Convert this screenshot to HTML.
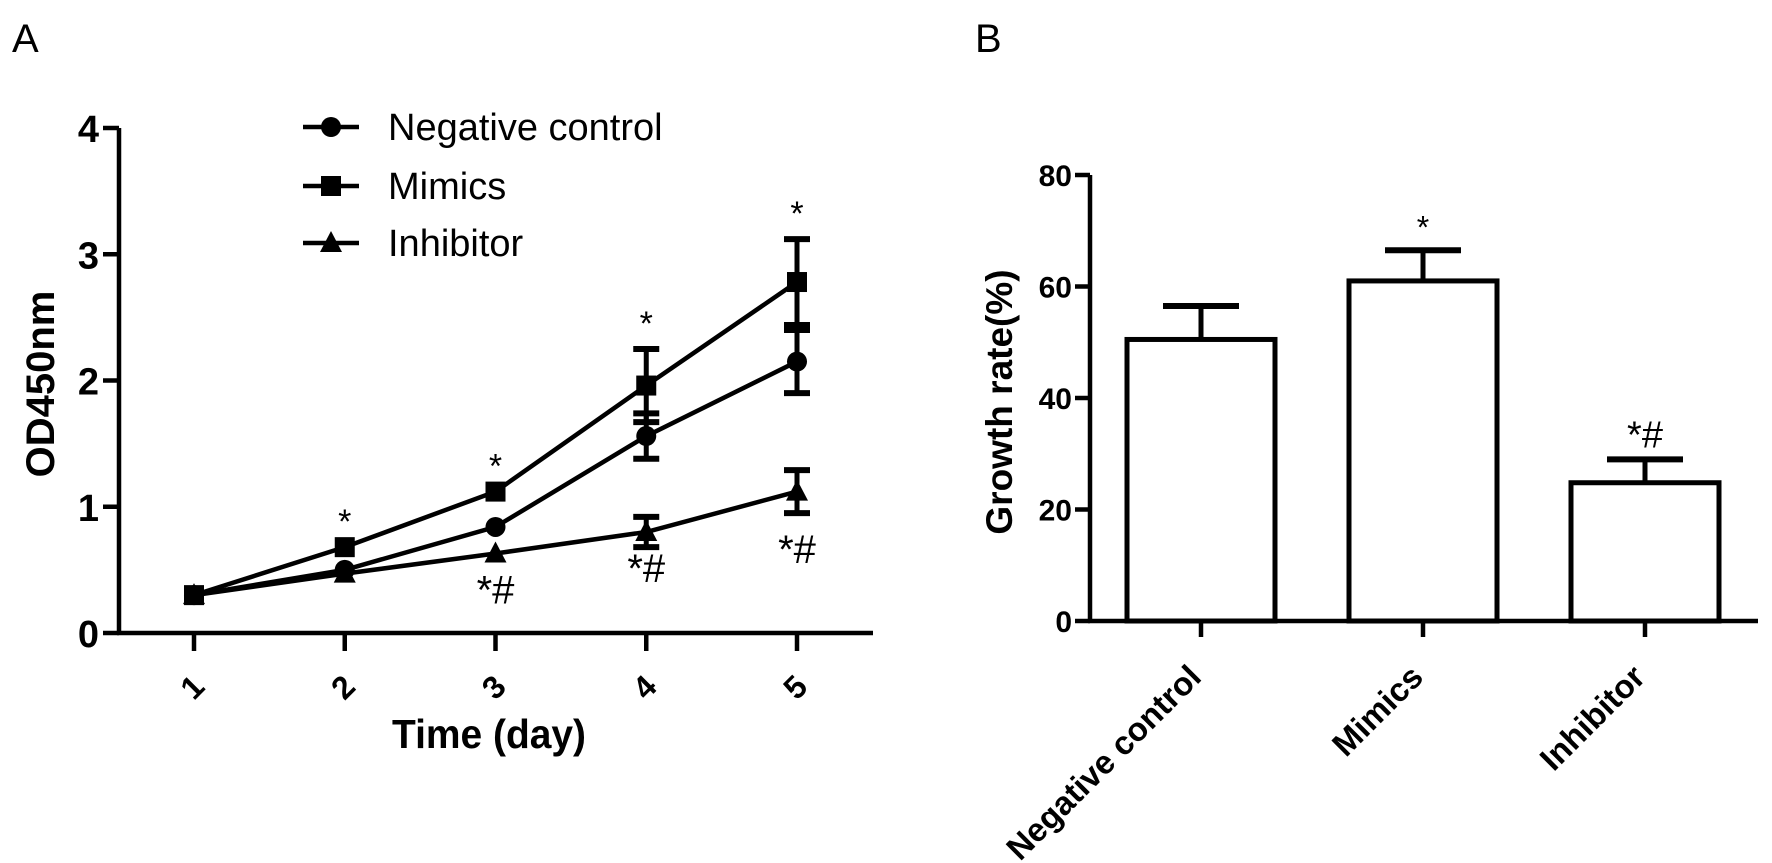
<!DOCTYPE html>
<html><head><meta charset="utf-8"><style>
html,body{margin:0;padding:0;background:#fff;}
svg{display:block;font-family:"Liberation Sans",Arial,sans-serif;}
</style></head><body>
<svg id="fig" width="1772" height="863" viewBox="0 0 1772 863" xmlns="http://www.w3.org/2000/svg">
<text x="12" y="52" font-size="40">A</text>
<text x="975" y="52" font-size="40">B</text>
<g id="chartA"></g>
<g id="chartB"></g>
</svg>
<script>
const days = [1,2,3,4,5];
const ncVals = [0.30,0.50,0.84,1.56,2.15];
const ncErr = [0,0,0,0.18,0.25];
const miVals = [0.30,0.68,1.12,1.96,2.78];
const miErr = [0,0,0,0.29,0.34];
const inVals = [0.30,0.47,0.63,0.80,1.12];
const inErr = [0,0,0,0.12,0.17];
const miMarks = ["","*","*","*","*"];
const inMarks = ["","","*#","*#","*#"];
const yTicksA = [0,1,2,3,4];

const barCats = ["Negative control","Mimics","Inhibitor"];
const barVals = [50.5,61,24.8];
const barErr = [6,5.5,4.2];
const barMarks = ["","*","*#"];
const yTicksB = [0,20,40,60,80];

const NS="http://www.w3.org/2000/svg";
function mk(parent,tag,attrs,text){const e=document.createElementNS(NS,tag);for(const k in attrs)e.setAttribute(k,attrs[k]);if(text!==undefined)e.textContent=text;parent.appendChild(e);return e;}

// Chart A
const A=document.getElementById('chartA');
const ax0=119, ay0=633, ay4=128;
const xA=d=>194+(d-1)*150.75;
const yA=v=>ay0-(ay0-ay4)*v/4;
let e;
e=mk(A,'line',{x1:ax0,y1:yA(0),x2:ax0,y2:yA(4),stroke:'#000','stroke-width':4.5});


e=mk(A,'line',{x1:ax0-2,y1:ay0,x2:873,y2:ay0,stroke:'#000','stroke-width':4.5});


yTicksA.forEach(t=>{
 mk(A,'line',{x1:ax0-16,y1:yA(t),x2:ax0,y2:yA(t),stroke:'#000','stroke-width':4.5});
 e=mk(A,'text',{x:ax0-20,y:yA(t)+14,'font-size':38,'font-weight':'bold','text-anchor':'end'},String(t));
 
 
});
days.forEach(d=>{
 mk(A,'line',{x1:xA(d),y1:ay0,x2:xA(d),y2:ay0+18,stroke:'#000','stroke-width':4.5});
 e=mk(A,'text',{x:0,y:0,'font-size':32,'font-weight':'bold','text-anchor':'middle',transform:`translate(${xA(d)+6},${ay0+62}) rotate(-45)`},String(d));
 
 
});
e=mk(A,'text',{x:392,y:748,'font-size':41,'font-weight':'bold',textLength:194,lengthAdjust:'spacingAndGlyphs'},'Time (day)');


e=mk(A,'text',{x:0,y:0,'font-size':40,'font-weight':'bold','text-anchor':'middle',transform:'translate(54,384) rotate(-90)'},'OD450nm');



function marker(g,type,x,y){
 if(type==='c') return mk(g,'circle',{cx:x,cy:y,r:10,fill:'#000'});
 if(type==='s') return mk(g,'rect',{x:x-10,y:y-10,width:20,height:20,fill:'#000'});
 return mk(g,'polygon',{points:`${x},${y-12} ${x-11},${y+9} ${x+11},${y+9}`,fill:'#000'});
}
const series=[[ncVals,ncErr,'c','negative-control'],[miVals,miErr,'s','mimics'],[inVals,inErr,'t','inhibitor']];
series.forEach(([vals,err,type,name])=>{
 const g=mk(A,'g',{});
 
 
 const pts=vals.map((v,i)=>xA(days[i])+','+yA(v)).join(' ');
 mk(g,'polyline',{points:pts,fill:'none',stroke:'#000','stroke-width':4.5});
 vals.forEach((v,i)=>{
  if(err[i]>0){
   const x=xA(days[i]);
   mk(g,'line',{x1:x,y1:yA(v+err[i]),x2:x,y2:yA(v-err[i]),stroke:'#000','stroke-width':5});
   mk(g,'line',{x1:x-13,y1:yA(v+err[i]),x2:x+13,y2:yA(v+err[i]),stroke:'#000','stroke-width':6});
   mk(g,'line',{x1:x-13,y1:yA(v-err[i]),x2:x+13,y2:yA(v-err[i]),stroke:'#000','stroke-width':6});
  }
  const m=marker(g,type,xA(days[i]),yA(v));
  
  
 });
});
miVals.forEach((v,i)=>{ if(miMarks[i]){
 e=mk(A,'text',{x:xA(days[i]),y:yA(v+miErr[i])-14,'font-size':34,'text-anchor':'middle'},miMarks[i]);
 
 
}});
inVals.forEach((v,i)=>{ if(inMarks[i]){
 const lo = i===4 ? v-inErr[i] : v;
 e=mk(A,'text',{x:xA(days[i]),y:yA(lo)+50,'font-size':40,'text-anchor':'middle'},inMarks[i]);
 
 
}});
// legend
const legNames=['Negative control','Mimics','Inhibitor'];const legTypes=['c','s','t'];const legY=[127,186,243];
legNames.forEach((n,i)=>{
 const g=mk(A,'g',{});
 
 
 mk(g,'line',{x1:303,y1:legY[i],x2:359,y2:legY[i],stroke:'#000','stroke-width':4.5});
 marker(g,legTypes[i],331,legY[i]);
 mk(g,'text',{x:388,y:legY[i]+13,'font-size':38},n);
});

// Chart B
const B=document.getElementById('chartB');
const bx0=1090, by0=621, by80=175;
const yB=v=>by0-(by0-by80)*v/80;
const xB=i=>1201+i*222;
const bw=148;
e=mk(B,'line',{x1:bx0,y1:yB(0),x2:bx0,y2:yB(80),stroke:'#000','stroke-width':4.5});


e=mk(B,'line',{x1:bx0-2,y1:by0,x2:1758,y2:by0,stroke:'#000','stroke-width':4.5});


yTicksB.forEach(t=>{
 mk(B,'line',{x1:bx0-15,y1:yB(t),x2:bx0,y2:yB(t),stroke:'#000','stroke-width':4.5});
 e=mk(B,'text',{x:bx0-18,y:yB(t)+11,'font-size':30,'font-weight':'bold','text-anchor':'end'},String(t));
 
 
});
e=mk(B,'text',{x:0,y:0,'font-size':37,'font-weight':'bold','text-anchor':'middle',transform:'translate(1012,402) rotate(-90)'},'Growth rate(%)');


barCats.forEach((c,i)=>{
 const x=xB(i),v=barVals[i],t=v+barErr[i];
 mk(B,'line',{x1:x,y1:yB(v),x2:x,y2:yB(t),stroke:'#000','stroke-width':5});
 mk(B,'line',{x1:x-38,y1:yB(t),x2:x+38,y2:yB(t),stroke:'#000','stroke-width':6});
 e=mk(B,'rect',{x:x-bw/2,y:yB(v),width:bw,height:by0-yB(v),fill:'#fff',stroke:'#000','stroke-width':5});
 
 
 mk(B,'line',{x1:x,y1:by0,x2:x,y2:by0+16,stroke:'#000','stroke-width':4.5});
 e=mk(B,'text',{x:0,y:0,'font-size':33,'font-weight':'bold','text-anchor':'end',transform:`translate(${x+2},${by0+58}) rotate(-45)`},c);
 
 
 if(barMarks[i]){
  e=mk(B,'text',{x:x,y:yB(t)-12,'font-size':barMarks[i]==='*'?32:38,'text-anchor':'middle'},barMarks[i]);
  
  
 }
});
</script>
</body></html>
